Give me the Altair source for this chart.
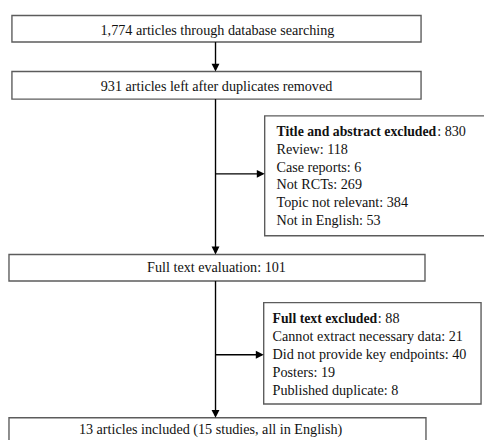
import altair as alt
import pandas as pd

# ---------------- data (texts and counts of the flow diagram) ----------------
main_labels = [
    "1,774 articles through database searching",
    "931 articles left after duplicates removed",
    "Full text evaluation: 101",
    "13 articles included (15 studies, all in English)",
]
excl1_title = "Title and abstract excluded"
excl1_total = 830
excl1_reasons = ["Review", "Case reports", "Not RCTs", "Topic not relevant", "Not in English"]
excl1_counts = [118, 6, 269, 384, 53]

excl2_title = "Full text excluded"
excl2_total = 88
excl2_reasons = ["Cannot extract necessary data", "Did not provide key endpoints",
                 "Posters", "Published duplicate"]
excl2_counts = [21, 40, 19, 8]

# ---------------- layout (page pixel frame) ----------------
FONT = "'Liberation Serif', 'Times New Roman', Times, serif"
FS = 14.4
FS_BOLD = 14
SPINE = 219
main_boxes = [(12, 428, 12, 39), (12, 428, 69, 97), (9, 432, 255, 282), (9, 433, 421, 460)]
main_text_pos = [(221, 31.5), (220, 88.5), (220, 272.5), (214, 437.5)]
excl_boxes = [(269, 505, 114, 236), (268, 489, 304, 407)]
excl1_text = (281, 134.5, 18.1)   # x, first baseline, line step
excl2_text = (277, 324.3, 18.3)

# advance widths (em) of Times-metric bold glyphs, used to place ": total" after the bold title
BOLD_EM = {"T": .667, "F": .611, "i": .278, "t": .333, "l": .278, "e": .444, " ": .25,
           "a": .5, "n": .556, "d": .556, "b": .556, "s": .389, "r": .444, "c": .444,
           "x": .5, "u": .556}


def bold_width(s):
    return sum(BOLD_EM.get(ch, .5) for ch in s) * FS_BOLD


X = alt.Scale(domain=[8, 492], range=[0, 484], nice=False, zero=False)
Y = alt.Scale(domain=[8, 440], range=[0, 432], nice=False, zero=False)


def enc(**kw):
    out = {}
    for k, v in kw.items():
        ch = {"x": alt.X, "x2": alt.X2, "y": alt.Y, "y2": alt.Y2}[k]
        if k in ("x", "y"):
            out[k] = ch(v, type="quantitative", scale=X if k == "x" else Y, axis=None)
        else:
            out[k] = ch(v)
    return out


boxes_df = pd.DataFrame(
    [dict(x=a, x2=b, y=c, y2=d) for (a, b, c, d) in main_boxes + excl_boxes]
)
boxes = alt.Chart(boxes_df).mark_rect(
    fill="white", stroke="#5c5c5c", strokeWidth=1.4
).encode(**enc(x="x", x2="x2", y="y", y2="y2"))

b1, b2, b3, b4 = main_boxes
e1, e2 = excl_boxes
arrow_len = 8
lines_df = pd.DataFrame([
    dict(x=SPINE, x2=SPINE, y=b1[3], y2=b2[2] - 2),
    dict(x=SPINE, x2=SPINE, y=b2[3], y2=b3[2] - 2),
    dict(x=SPINE, x2=SPINE, y=b3[3], y2=b4[2] - 2),
    dict(x=SPINE, x2=e1[0] - 2, y=173, y2=173),
    dict(x=SPINE, x2=e2[0] - 2, y=357, y2=357),
])
lines = alt.Chart(lines_df).mark_rule(color="black", strokeWidth=1.4).encode(
    **enc(x="x", x2="x2", y="y", y2="y2")
)

down_df = pd.DataFrame([
    dict(x=SPINE, y=b2[2] - arrow_len / 2),
    dict(x=SPINE, y=b3[2] - arrow_len / 2),
    dict(x=SPINE, y=b4[2] - arrow_len / 2),
])
right_df = pd.DataFrame([
    dict(x=e1[0] - arrow_len / 2, y=173),
    dict(x=e2[0] - arrow_len / 2, y=357),
])
down = alt.Chart(down_df).mark_point(
    shape="M-1,-1L1,-1L0,1Z", filled=True, color="black", size=64, opacity=1
).encode(**enc(x="x", y="y"))
right = alt.Chart(right_df).mark_point(
    shape="M-1,-1L-1,1L1,0Z", filled=True, color="black", size=64, opacity=1
).encode(**enc(x="x", y="y"))

main_df = pd.DataFrame(
    [dict(x=p[0], y=p[1], t=t) for p, t in zip(main_text_pos, main_labels)]
)
main_text = alt.Chart(main_df).mark_text(
    font=FONT, fontSize=FS, align="center", baseline="alphabetic", color="#111"
).encode(text="t:N", **enc(x="x", y="y"))

rows, titles, totals = [], [], []
for (tx, ty, step), title, total, reasons, counts in [
    (excl1_text, excl1_title, excl1_total, excl1_reasons, excl1_counts),
    (excl2_text, excl2_title, excl2_total, excl2_reasons, excl2_counts),
]:
    titles.append(dict(x=tx, y=ty, t=title))
    totals.append(dict(x=tx + bold_width(title) + 0.5, y=ty, t=f": {total}"))
    for i, (r, c) in enumerate(zip(reasons, counts)):
        rows.append(dict(x=tx, y=ty + step * (i + 1), t=f"{r}: {c}"))

reason_text = alt.Chart(pd.DataFrame(rows)).mark_text(
    font=FONT, fontSize=FS, align="left", baseline="alphabetic", color="#111"
).encode(text="t:N", **enc(x="x", y="y"))
title_text = alt.Chart(pd.DataFrame(titles)).mark_text(
    font=FONT, fontSize=FS_BOLD, fontWeight="bold", align="left", baseline="alphabetic",
    color="#111"
).encode(text="t:N", **enc(x="x", y="y"))
total_text = alt.Chart(pd.DataFrame(totals)).mark_text(
    font=FONT, fontSize=FS, align="left", baseline="alphabetic", color="#111"
).encode(text="t:N", **enc(x="x", y="y"))

chart = alt.layer(
    boxes, lines, down, right, main_text, reason_text, title_text, total_text
).properties(
    width=484, height=432, padding=0, autosize=alt.AutoSizeParams(type="none"),
    background="white",
).configure_view(stroke=None)

chart.save("out.html", embed_options={"renderer": "svg", "actions": False})
